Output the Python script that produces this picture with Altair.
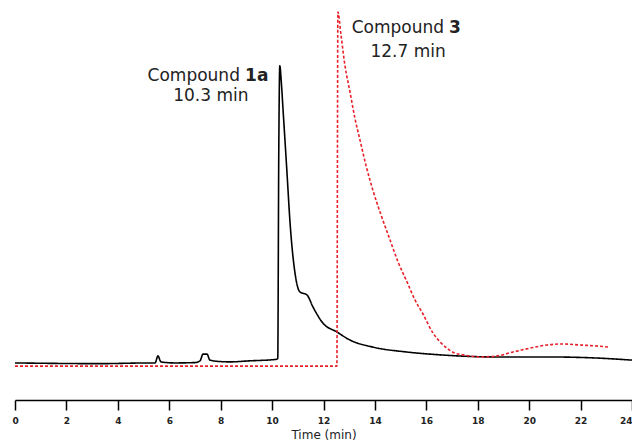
import altair as alt
import pandas as pd

# Compound 1a trace (black, solid): time (min), signal (a.u.)
t_1a = [0, 3.3, 5.25, 5.45, 5.56, 5.68, 6.22, 7.0, 7.2, 7.31, 7.47, 7.58, 7.97, 8.36, 9.14, 10.15,
        10.22, 10.26, 10.3, 10.36, 10.42, 10.58, 10.7, 10.89, 11.08, 11.36, 11.59, 11.98, 12.52,
        13.03, 13.92, 15.25, 16.53, 18.75, 20.7, 22.6, 24.0]
s_1a = [0.3, 0.1, 0.3, 0.3, 2.3, 0.6, 0.3, 0.4, 0.9, 2.8, 2.8, 1.1, 0.7, 0.6, 0.9, 1.3,
        1.5, 60.0, 84.7, 80.0, 73.0, 54.3, 40.0, 25.9, 20.5, 19.6, 16.2, 11.6, 9.1,
        6.8, 4.8, 3.4, 2.6, 2.0, 2.0, 1.7, 1.1]

# Compound 3 trace (red, dashed)
t_3 = [0, 12.52, 12.56, 12.68, 12.83, 13.03, 13.22, 13.42, 13.65, 13.92, 14.24, 14.59, 14.90,
       15.25, 15.56, 15.87, 16.26, 16.53, 16.80, 17.11, 17.42, 18.09, 18.75, 19.37, 20.03,
       20.69, 21.31, 21.98, 22.64, 23.14]
s_3 = [-0.6, -0.6, 100.0, 93.5, 85.0, 77.3, 69.9, 63.6, 56.5, 49.4, 42.3, 35.2, 29.0,
       23.3, 18.2, 14.2, 8.8, 6.3, 4.5, 3.1, 2.6, 2.0, 2.3, 3.4, 4.5,
       5.4, 5.7, 5.4, 5.1, 4.8]

x_ticks = list(range(0, 25))

# annotations: x (min), y (a.u.), text, weight, align
ann_x = [8.75, 8.95, 7.62, 16.69, 16.88, 15.29]
ann_y = [80.4, 80.4, 74.7, 94.0, 94.0, 87.2]
ann_text = ["Compound", "1a", "10.3 min", "Compound", "3", "12.7 min"]
ann_weight = ["normal", "bold", "normal", "normal", "bold", "normal"]
ann_align = ["right", "left", "center", "right", "left", "center"]

df = pd.DataFrame({
    "t": t_1a + t_3,
    "s": s_1a + s_3,
    "series": ["1a"] * len(t_1a) + ["3"] * len(t_3),
})
ann = pd.DataFrame({"x": ann_x, "y": ann_y, "text": ann_text,
                    "weight": ann_weight, "align": ann_align})

xscale = alt.Scale(domain=[0, 24], nice=False, zero=False)
yscale = alt.Scale(domain=[-10.23, 101.14], nice=False, zero=False)

xaxis = alt.Axis(
    values=x_ticks, title="Time (min)", grid=False,
    domainColor="black", domainWidth=1.5, tickColor="black", tickWidth=1.5,
    tickSize={"condition": {"test": "datum.value % 2 === 0", "value": 10}, "value": 6},
    labelExpr="datum.value % 2 === 0 ? datum.label : ''",
    labelAlign={"condition": {"test": "datum.value === 24", "value": "right"}, "value": "center"},
    labelFont="DejaVu Sans", labelFontSize=9, labelFontWeight="bold", labelColor="#222",
    labelPadding=6, labelOverlap=False, labelFlush=False,
    titleFont="DejaVu Sans", titleFontSize=12, titleFontWeight="normal", titleColor="#222",
    titlePadding=4,
)

lines = alt.Chart(df).mark_line(strokeWidth=1.6, interpolate="monotone").encode(
    x=alt.X("t:Q", scale=xscale, axis=xaxis),
    y=alt.Y("s:Q", scale=yscale, axis=None),
    color=alt.Color("series:N", scale=alt.Scale(domain=["1a", "3"], range=["black", "#e8202a"]), legend=None),
    strokeDash=alt.StrokeDash("series:N", scale=alt.Scale(domain=["1a", "3"], range=[[1, 0], [3, 2]]), legend=None),
    order=alt.Order("t:Q"),
)

def txt(sel, align, weight):
    return alt.Chart(ann.iloc[sel]).mark_text(
        align=align, baseline="alphabetic", font="DejaVu Sans", fontSize=17,
        fontWeight=weight, color="#222"
    ).encode(x=alt.X("x:Q", scale=xscale), y=alt.Y("y:Q", scale=yscale), text="text:N")

texts = [
    txt([0, 3], "right", "normal"),
    txt([1, 4], "left", "bold"),
    txt([2, 5], "center", "normal"),
]

chart = alt.layer(lines, *texts).properties(
    width=617, height=392,
    autosize=alt.AutoSizeParams(type="none"),
    padding={"left": 7, "top": 0, "right": 0, "bottom": 52},
).configure_view(stroke=None)

chart.save("out.html", embed_options={"renderer": "svg", "actions": False})
